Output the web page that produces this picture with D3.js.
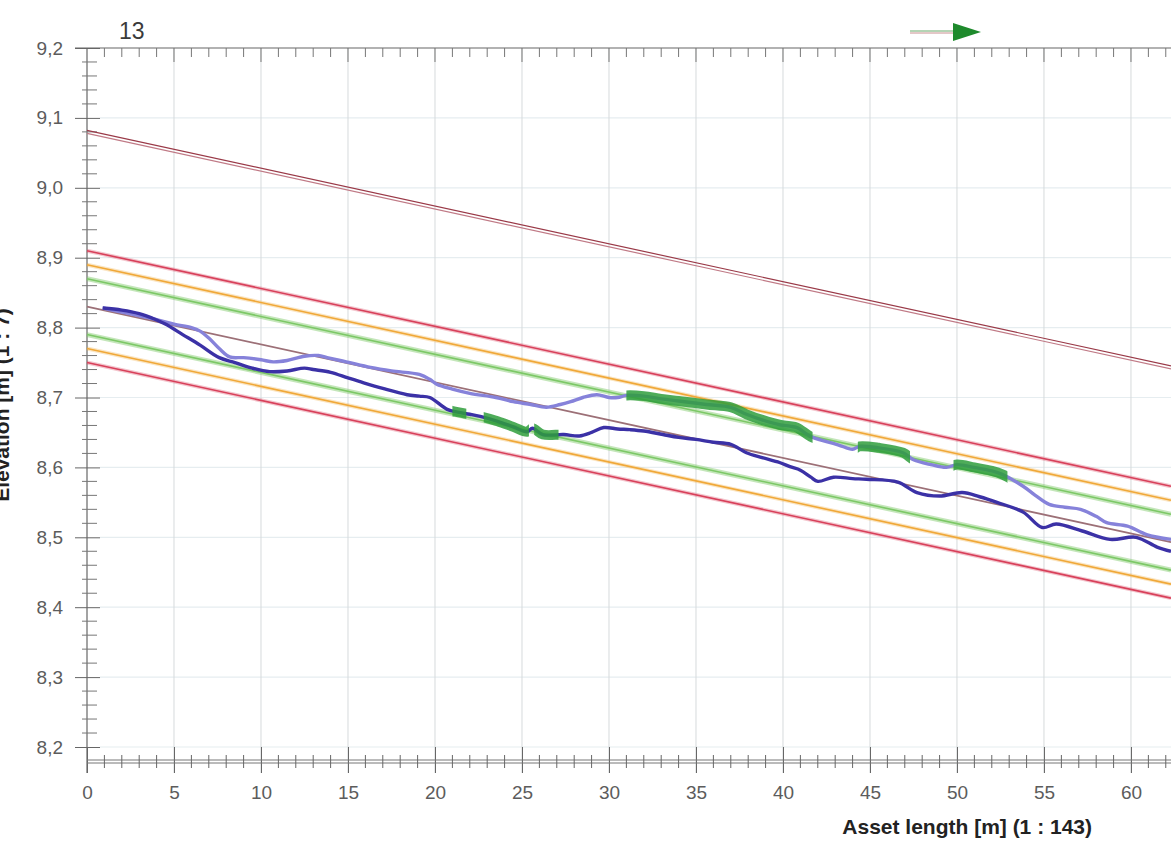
<!DOCTYPE html>
<html>
<head>
<meta charset="utf-8">
<script src="https://cdn.jsdelivr.net/npm/d3@7"></script>
<style>
  html, body { margin: 0; padding: 0; background: #fff; }
  svg { display: block; font-family: "Liberation Sans", Arial, sans-serif; }
</style>
</head>
<body>
<svg id="chart" width="1171" height="861"></svg>
<script>
// chainage along the asset [m] and measured levels [m]
var lowerChainage = [0.9, 2.0, 3.0, 3.9, 4.5, 5.5, 6.5, 7.6, 8.5, 9.5, 10.5, 11.5, 12.5, 13.0, 14.0, 15.0, 15.9, 17.0, 18.4, 19.1,
  19.7, 20.7, 21.3, 22.0, 22.6, 23.6, 24.5, 25.3, 25.6, 26.2, 27.4, 28.3, 29.0, 29.7, 30.5, 31.2, 32.0, 33.1, 34.0, 35.0,
  36.0, 37.0, 37.9, 38.8, 39.8, 40.4, 41.0, 41.6, 42.0, 42.9, 44.0, 44.8, 46.6, 47.7, 49.0, 50.3, 51.3, 52.3, 53.8, 54.9,
  55.7, 57.2, 58.8, 60.3, 61.5, 62.3];
var lowerLevel = [8.828, 8.825, 8.820, 8.812, 8.805, 8.790, 8.775, 8.757, 8.750, 8.742, 8.737, 8.738, 8.742, 8.740, 8.736, 8.728, 8.721, 8.713, 8.704, 8.702,
  8.700, 8.683, 8.679, 8.676, 8.673, 8.666, 8.658, 8.651, 8.656, 8.647, 8.647, 8.645, 8.650, 8.657, 8.655, 8.654, 8.652, 8.647, 8.643, 8.640,
  8.636, 8.633, 8.621, 8.614, 8.607, 8.601, 8.596, 8.586, 8.580, 8.586, 8.584, 8.583, 8.579, 8.564, 8.559, 8.564, 8.558, 8.550, 8.536, 8.514,
  8.519, 8.509, 8.497, 8.500, 8.486, 8.480];

var upperChainage = [0.9, 3.9, 5.0, 6.0, 6.5, 7.0, 7.6, 8.2, 9.0, 10.0, 10.7, 11.5, 12.5, 13.3, 13.8, 14.9, 16.3, 17.5, 19.1, 19.7,
  20.1, 21.0, 22.0, 23.5, 24.5, 25.5, 26.4, 27.2, 27.8, 28.5, 29.3, 30.0, 30.5, 31.0, 32.0, 33.0, 34.0, 35.6, 37.0, 37.9,
  38.8, 39.8, 40.4, 40.8, 41.6, 42.5, 43.2, 44.0, 44.4, 45.5, 46.9, 47.5, 48.5, 49.4, 50.0, 51.0, 52.0, 52.6, 53.8, 54.5,
  55.3, 56.2, 57.1, 58.0, 58.6, 59.8, 60.9, 62.3];
var upperLevel = [8.828, 8.812, 8.805, 8.800, 8.795, 8.785, 8.770, 8.758, 8.757, 8.754, 8.751, 8.753, 8.759, 8.760, 8.757, 8.751, 8.743, 8.738, 8.733, 8.726,
  8.719, 8.712, 8.706, 8.700, 8.694, 8.690, 8.686, 8.690, 8.694, 8.700, 8.704, 8.700, 8.700, 8.703, 8.702, 8.698, 8.695, 8.690, 8.686, 8.676,
  8.668, 8.661, 8.659, 8.657, 8.644, 8.637, 8.632, 8.626, 8.630, 8.628, 8.621, 8.611, 8.604, 8.600, 8.604, 8.600, 8.595, 8.590, 8.573, 8.560,
  8.547, 8.543, 8.540, 8.530, 8.521, 8.516, 8.504, 8.497];

// chainage ranges flagged in green
var lowerFlagged = [[21.0, 21.8], [22.8, 25.4], [25.7, 27.1]];
var upperFlagged = [[31.0, 41.7], [44.3, 47.3], [49.8, 52.9]];

// design gradient: level at start and end of the drawn length
var designStart = 8.83, designEnd = 8.493;
var topLineStart = 9.08, topLineEnd = 8.743;
var bandOffsets = [0.08, 0.06, 0.04, -0.04, -0.06, -0.08];
var bandColors = ["#d8405a", "#f0a838", "#7cc866", "#7cc866", "#f0a838", "#d8405a"];

var xLabels = [0, 5, 10, 15, 20, 25, 30, 35, 40, 45, 50, 55, 60];
var yLabels = [8.2, 8.3, 8.4, 8.5, 8.6, 8.7, 8.8, 8.9, 9.0, 9.1, 9.2];

var svg = d3.select("#chart");

var x = d3.scaleLinear().domain([0, 62.3]).range([87, 1171]);
var y = d3.scaleLinear().domain([8.2, 9.2]).range([747, 48]);

var endM = x.domain()[1];
var line = d3.line().x(function(d) { return x(d[0]); }).y(function(d) { return y(d[1]); });
var smooth = d3.line().curve(d3.curveCatmullRom).x(function(d) { return x(d[0]); }).y(function(d) { return y(d[1]); });

// grid
svg.append("g").selectAll("line").data(yLabels.slice(0, -1)).enter().append("line")
  .attr("x1", 100).attr("x2", 1171)
  .attr("y1", function(d) { return y(d); }).attr("y2", function(d) { return y(d); })
  .attr("stroke", "#e6edf0").attr("stroke-width", 1.2);

svg.append("g").selectAll("line").data(xLabels.slice(1)).enter().append("line")
  .attr("x1", function(d) { return x(d); }).attr("x2", function(d) { return x(d); })
  .attr("y1", 48).attr("y2", 773)
  .attr("stroke", "#d6dadc").attr("stroke-width", 1);

// top frame line with ticks
svg.append("line").attr("x1", 75).attr("x2", 1171).attr("y1", 48).attr("y2", 48)
  .attr("stroke", "#666").attr("stroke-width", 1.2);
svg.append("g").selectAll("line").data(d3.range(1, 63)).enter().append("line")
  .attr("x1", function(d) { return x(d); }).attr("x2", function(d) { return x(d); })
  .attr("y1", 48).attr("y2", function(d) { return d % 5 === 0 ? 62 : 57; })
  .attr("stroke", "#777").attr("stroke-width", 1);

// left axis
var yAxis = svg.append("g").attr("transform", "translate(87,0)")
  .call(d3.axisLeft(y).tickValues(yLabels)
    .tickFormat(function(d) { return d.toFixed(1).replace(".", ","); })
    .tickSizeInner(12).tickSizeOuter(0).tickPadding(12));
yAxis.select(".domain").remove();
yAxis.selectAll(".tick line").attr("x1", -12).attr("x2", 13).attr("stroke", "#666");
yAxis.selectAll(".tick text").attr("font-size", 19).attr("fill", "#5c5c5c").attr("font-family", null);
svg.append("line").attr("x1", 87).attr("x2", 87).attr("y1", 48).attr("y2", 773)
  .attr("stroke", "#666").attr("stroke-width", 1.2);
svg.append("g").selectAll("line").data(d3.range(410, 460).map(function(i) { return i / 50; })
    .filter(function(d) { return Math.round(d * 50) % 5 !== 0; }))
  .enter().append("line")
  .attr("x1", 82).attr("x2", 97)
  .attr("y1", function(d) { return y(d); }).attr("y2", function(d) { return y(d); })
  .attr("stroke", "#777").attr("stroke-width", 1);

// bottom axis
var xAxis = svg.append("g").attr("transform", "translate(0,763)")
  .call(d3.axisBottom(x).tickValues(xLabels).tickFormat(d3.format("d"))
    .tickSizeInner(10).tickSizeOuter(0).tickPadding(13));
xAxis.select(".domain").remove();
xAxis.selectAll(".tick line").attr("y1", -16).attr("y2", 10).attr("stroke", "#666");
xAxis.selectAll(".tick text").attr("font-size", 19).attr("fill", "#5c5c5c").attr("font-family", null);
[760, 763].forEach(function(yy) {
  svg.append("line").attr("x1", 87).attr("x2", 1171).attr("y1", yy).attr("y2", yy)
    .attr("stroke", "#777").attr("stroke-width", 1);
});
svg.append("g").selectAll("line").data(d3.range(1, 63).filter(function(d) { return d % 5 !== 0; }))
  .enter().append("line")
  .attr("x1", function(d) { return x(d); }).attr("x2", function(d) { return x(d); })
  .attr("y1", 755).attr("y2", 768)
  .attr("stroke", "#666").attr("stroke-width", 1);

// design lines
var plot = svg.append("g");
bandOffsets.forEach(function(off, i) {
  var pts = [[0, designStart + off], [endM, designEnd + off]];
  var c = bandColors[i];
  var green = Math.abs(off) < 0.05;
  plot.append("path").datum(pts).attr("d", line).attr("fill", "none")
    .attr("stroke", c).attr("stroke-width", green ? 5 : 4).attr("opacity", green ? 0.45 : 0.3);
  plot.append("path").datum(pts).attr("d", line).attr("fill", "none")
    .attr("stroke", c).attr("stroke-width", 1.6);
});
plot.append("path").datum([[0, designStart], [endM, designEnd]]).attr("d", line)
  .attr("fill", "none").attr("stroke", "#9c7077").attr("stroke-width", 1.8);
plot.append("path").datum([[0, topLineStart], [endM, topLineEnd]]).attr("d", line)
  .attr("fill", "none").attr("stroke", "#9a3a48").attr("stroke-width", 1.2)
  .attr("transform", "translate(0,-1.5)");
plot.append("path").datum([[0, topLineStart], [endM, topLineEnd]]).attr("d", line)
  .attr("fill", "none").attr("stroke", "#c07a86").attr("stroke-width", 1.2)
  .attr("transform", "translate(0,1.5)");

// measured profiles
var upper = d3.zip(upperChainage, upperLevel);
var lower = d3.zip(lowerChainage, lowerLevel);

plot.append("path").datum(upper).attr("d", smooth).attr("fill", "none")
  .attr("stroke", "#8682da").attr("stroke-width", 3.4).attr("stroke-linejoin", "round");
plot.append("path").datum(lower).attr("d", smooth).attr("fill", "none")
  .attr("stroke", "#3b31a6").attr("stroke-width", 3.4).attr("stroke-linejoin", "round");

function flagged(id, data, ranges) {
  var cp = svg.append("clipPath").attr("id", id);
  cp.selectAll("rect").data(ranges).enter().append("rect")
    .attr("x", function(d) { return x(d[0]); })
    .attr("width", function(d) { return x(d[1]) - x(d[0]); })
    .attr("y", 0).attr("height", 861);
  plot.append("path").datum(data).attr("d", smooth).attr("fill", "none")
    .attr("clip-path", "url(#" + id + ")")
    .attr("stroke", "#2f9e3c").attr("stroke-width", 10).attr("opacity", 0.85)
    .attr("stroke-linejoin", "round");
}
flagged("clipLower", lower, lowerFlagged);
flagged("clipUpper", upper, upperFlagged);

// texts
svg.append("text").attr("x", 119).attr("y", 39).attr("font-size", 23)
  .attr("fill", "#3a3a3a").text("13");

svg.append("text").attr("x", 1092).attr("y", 834).attr("text-anchor", "end")
  .attr("font-size", 21).attr("font-weight", "bold").attr("fill", "#222")
  .text("Asset length [m] (1 : 143)");

svg.append("text").attr("transform", "translate(9,405) rotate(-90)")
  .attr("text-anchor", "middle").attr("font-size", 21).attr("font-weight", "bold")
  .attr("fill", "#222").text("Elevation [m] (1 : 7)");

// flow direction arrow
svg.append("line").attr("x1", 910).attr("x2", 955).attr("y1", 31).attr("y2", 31)
  .attr("stroke", "#6aa86a").attr("stroke-width", 1);
svg.append("line").attr("x1", 910).attr("x2", 955).attr("y1", 33).attr("y2", 33)
  .attr("stroke", "#c89090").attr("stroke-width", 1);
svg.append("path").attr("d", "M953,23 L981,32 L953,41 Z").attr("fill", "#1e8a2c");
</script>
</body>
</html>
